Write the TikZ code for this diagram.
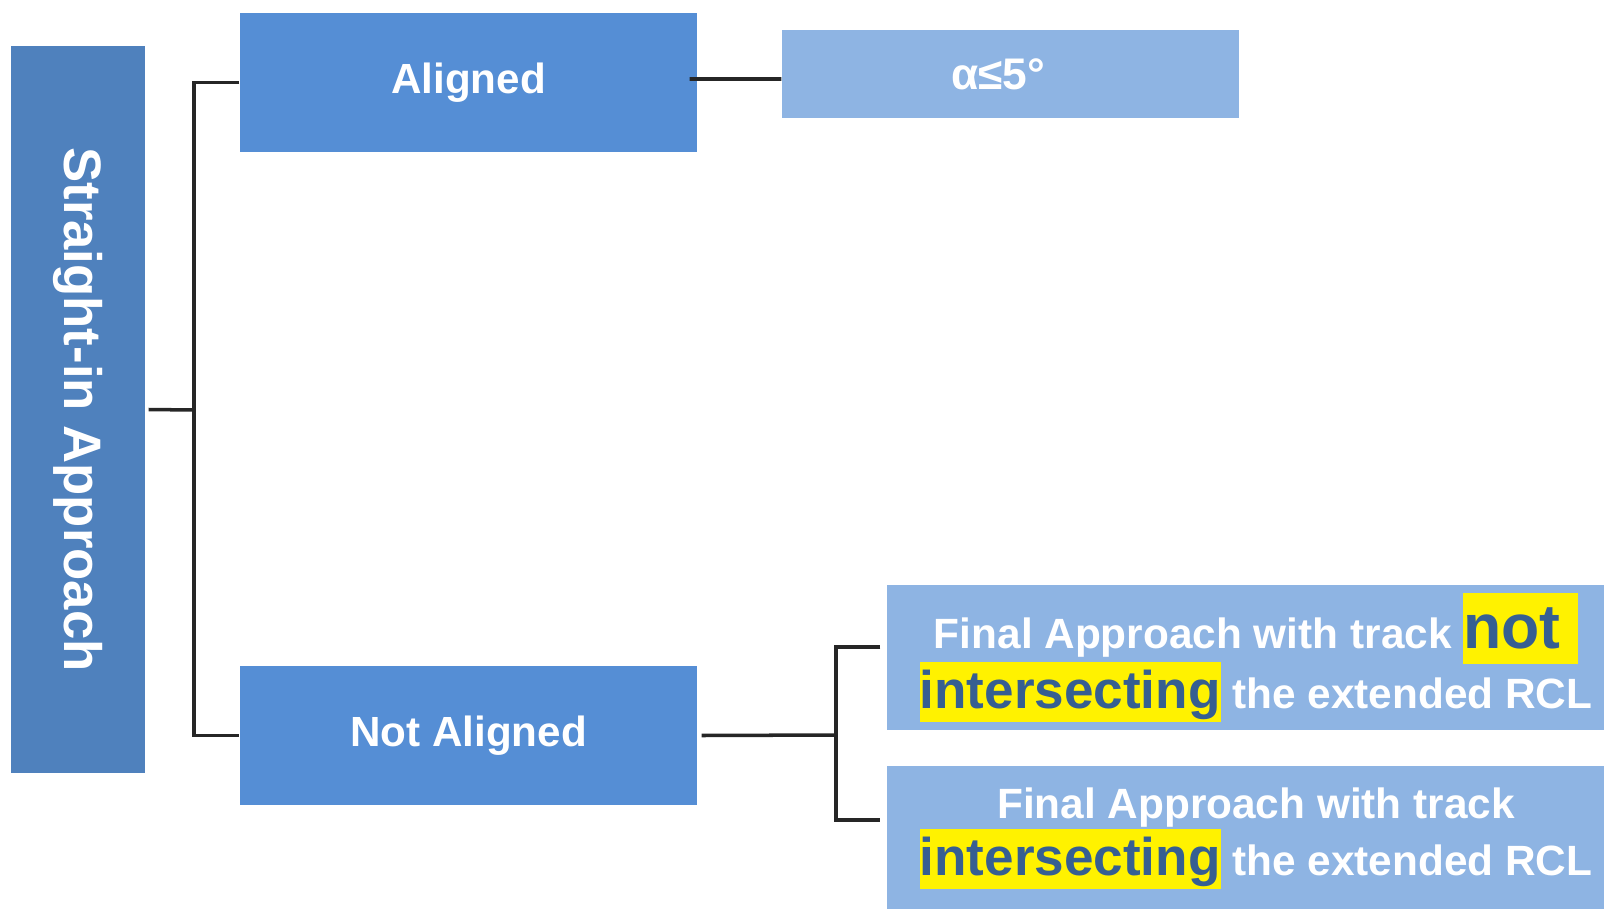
\documentclass[tikz,border=0pt]{standalone}
\usepackage{fontspec}
\setmainfont{Liberation Sans}
\usepackage{xcolor}
\usepackage{graphicx}
\usetikzlibrary{positioning}
\definecolor{rootblue}{HTML}{4F81BD}
\definecolor{midblue}{HTML}{558ED5}
\definecolor{lightblue}{HTML}{8EB4E3}
\definecolor{markblue}{HTML}{365F91}
\definecolor{linegray}{HTML}{262626}
% yellow marker: size, depth, total height, word
\newcommand{\hlword}[4]{{\setlength{\fboxsep}{0pt}\colorbox{yellow}{\fontsize{#1}{#1}\selectfont\color{markblue}\rule[-#2]{0pt}{#3}#4}}}
\newcommand{\tightlines}{\lineskiplimit=-20pt\relax}

\begin{document}
\begin{tikzpicture}[
  font=\bfseries,
  rootbox/.style={
    fill=rootblue,
    text=white,
    minimum width=1.34cm,
    minimum height=7.27cm,
    inner sep=0pt,
    font=\bfseries\fontsize{15}{18}\selectfont,
  },
  branchbox/.style={
    fill=midblue,
    text=white,
    minimum width=4.57cm,
    minimum height=1.39cm,
    inner sep=0pt,
    font=\bfseries\fontsize{12}{14}\selectfont,
  },
  leafbox/.style={
    fill=lightblue,
    text=white,
    minimum width=4.57cm,
    minimum height=0.88cm,
    inner sep=0pt,
    font=\bfseries\fontsize{12.6}{15}\selectfont,
  },
  casebox/.style={
    fill=lightblue,
    text=white,
    minimum width=7.38cm,
    minimum height=1.45cm,
    inner sep=0pt,
    align=center,
    font=\bfseries\fontsize{12.05}{17.1}\selectfont\tightlines,
  },
  link/.style={
    draw=linegray,
    line width=1pt,
  }
]
  \useasboundingbox (0,0) rectangle (16.04,9.08);

  % === ROOT (left) ===
  \node[rootbox] (root) at (0.78,4.985) {\rotatebox{-90}{Straight-in Approach}};

  % === BRANCHES ===
  \node[branchbox] (aligned) at (4.685,8.255) {Aligned};
  \node[branchbox] (notaligned) at (4.685,1.725) {Not Aligned};

  % === LEAVES ===
  \node[leafbox] (alpha) at (10.105,8.34) {α≤5°\kern0.25cm};
  \node[casebox] (nocross) at (12.56,2.505)
    {Final Approach with track \hlword{17.8pt}{4.3pt}{20.2pt}{not\ }\\
     \hlword{15.1pt}{3.7pt}{17.1pt}{intersecting} the extended RCL};
  \node[casebox] (cross) at (12.56,0.695)
    {Final Approach with track\\[-0.9pt]
     \hlword{15.1pt}{3.7pt}{17.1pt}{intersecting} the extended RCL};

  % root -> aligned / not aligned
  \coordinate (rj) at (1.94,4.98);
  \draw[link] ([xshift=0.03cm]root.east) -- (rj);
  \draw[link] (aligned.west) -| (rj) |- (notaligned.west);

  % aligned -> alpha
  \draw[link] ([xshift=-0.08cm,yshift=0.035cm]aligned.east) -- ([yshift=-0.05cm]alpha.west);

  % not aligned -> both cases
  \coordinate (nj) at (8.36,1.73);
  \draw[link] ([xshift=0.04cm]notaligned.east) -- (nj);
  \draw[link] ([xshift=-0.06cm,yshift=0.105cm]nocross.west) -| (nj) |- ([xshift=-0.06cm,yshift=0.185cm]cross.west);

\end{tikzpicture}
\end{document}
